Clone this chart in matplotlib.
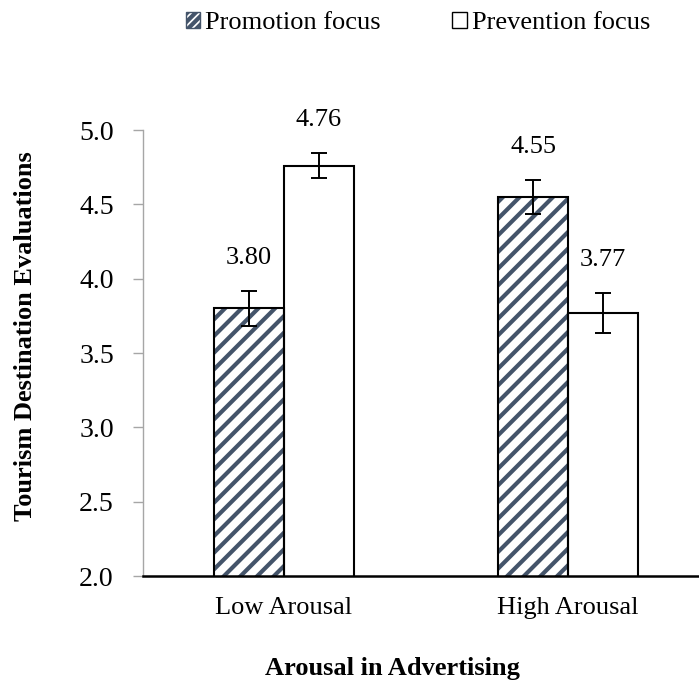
import matplotlib
matplotlib.use("Agg")
import matplotlib.pyplot as plt
from matplotlib.patches import Patch

# data
categories = ["Low Arousal", "High Arousal"]
promotion = [3.80, 4.55]
prevention = [4.76, 3.77]
promotion_err = [0.12, 0.115]
prevention_err = [0.085, 0.135]
series_names = ["Promotion focus", "Prevention focus"]

plt.rcParams['font.family'] = ['Liberation Serif', 'DejaVu Serif']
plt.rcParams['hatch.linewidth'] = 3.0

stripe = '#44546a'

fig = plt.figure(figsize=(6.99, 6.82), dpi=100)
ax = fig.add_axes([143 / 699, 1 - 576 / 682, 1 - 143 / 699, (576 - 130) / 682])

x = list(range(len(categories)))
w = 0.246
xp = [i - w / 2 for i in x]
xv = [i + w / 2 for i in x]

# hatched fill first (edge colour drives the stripe colour), outline on top
ax.bar(xp, promotion, w, color='white', edgecolor=stripe, linewidth=0,
       hatch='//', zorder=2)
ax.bar(xp, promotion, w, fill=False, edgecolor='black', linewidth=1.5, zorder=2.5)
ax.bar(xv, prevention, w, color='white', edgecolor='black', linewidth=1.5, zorder=2)
ax.errorbar(xp, promotion, yerr=promotion_err, fmt='none', ecolor='black',
            elinewidth=1.4, capsize=6, capthick=1.4, zorder=3)
ax.errorbar(xv, prevention, yerr=prevention_err, fmt='none', ecolor='black',
            elinewidth=1.4, capsize=6, capthick=1.4, zorder=3)

for xs, vals, errs in [(xp, promotion, promotion_err), (xv, prevention, prevention_err)]:
    for xi, v, e in zip(xs, vals, errs):
        ax.text(xi, v + e + 0.22, f"{v:.2f}", ha='center', va='center', fontsize=19)

ax.set_xlim(-141 / 284, 1 + 131 / 284)
ax.set_ylim(2.0, 5.0)
yt = [2.0, 2.5, 3.0, 3.5, 4.0, 4.5, 5.0]
ax.set_yticks(yt)
ax.set_yticklabels([f"{t:.1f}" for t in yt])
ax.set_xticks(x)
ax.set_xticklabels(categories)

for s in ['top', 'right']:
    ax.spines[s].set_visible(False)
ax.spines['left'].set_color('#a6a6a6')
ax.spines['left'].set_linewidth(1.0)
ax.spines['bottom'].set_color('black')
ax.spines['bottom'].set_linewidth(1.8)
ax.spines['bottom'].set_zorder(4)

ax.tick_params(axis='y', direction='out', length=7, width=1, color='#a6a6a6',
               labelsize=20, pad=14)
ax.tick_params(axis='x', length=0, labelsize=19, pad=15)

ax.set_xlabel("Arousal in Advertising", fontsize=19, fontweight='bold', va='center')
ax.xaxis.set_label_coords((392 - 143) / 556, -(669 - 576) / 446)
ax.set_ylabel("Tourism Destination Evaluations", fontsize=19, fontweight='bold', va='center')
ax.yaxis.set_label_coords(-(143 - 26) / 556, (576 - 336) / 446)

handles = [Patch(facecolor='white', edgecolor=stripe, hatch='////', label=series_names[0]),
           Patch(facecolor='white', edgecolor='black', label=series_names[1])]
fig.legend(handles=handles, loc='center', bbox_to_anchor=(418 / 699, 1 - 23 / 682),
           ncol=2, frameon=False, fontsize=19, handlelength=0.55, handleheight=0.55,
           handletextpad=0.2, columnspacing=2.7, borderpad=0)

fig.savefig("out.png", dpi=100)
